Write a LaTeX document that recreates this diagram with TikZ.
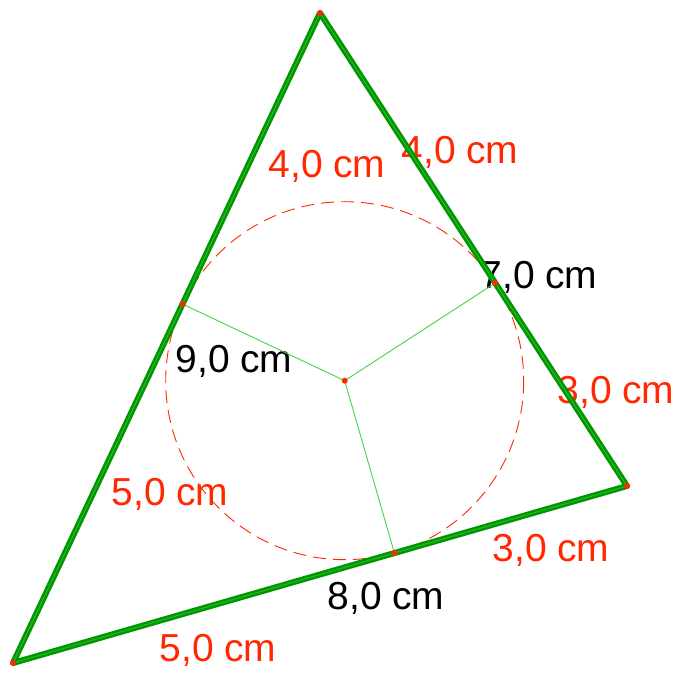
\documentclass[tikz,border=0pt]{standalone}
\usepackage{fontspec}
\setmainfont{Liberation Sans}
\usepackage{xcolor}
\usepackage{tikz}
\usetikzlibrary{calc}

\definecolor{doGG}{RGB}{255,40,0}
\definecolor{xanhGG}{RGB}{0,150,0}
\definecolor{xanhnhat}{RGB}{70,210,70}

\begin{document}
\begin{tikzpicture}[x=0.5pt, y=-0.5pt,
    canh/.style={line width=3pt, xanhGG, line cap=round, line join=round},
    vien/.style={line width=0.6pt, xanhnhat!50!xanhGG},
    bankinh/.style={line width=0.45pt, xanhnhat},
    duongtron/.style={doGG, line width=0.45pt, dash pattern=on 6.5pt off 3.5pt},
    diem/.style={circle, fill=doGG, inner sep=0pt, minimum size=3pt},
    nhando/.style={anchor=base, text=doGG, font=\fontsize{19.5}{23}\selectfont},
    nhanden/.style={anchor=base, text=black, font=\fontsize{19.5}{23}\selectfont}]
    % Khung hình
    \useasboundingbox (0,0) rectangle (681,673);
    
    % Các đỉnh tam giác và tâm đường tròn nội tiếp
    \coordinate (A) at (320,13);
    \coordinate (B) at (627,486);
    \coordinate (C) at (13,663);
    \coordinate (I) at (344.7,380.7);
    
    % Các tiếp điểm = chân đường vuông góc hạ từ I
    \coordinate (M) at ($(A)!(I)!(C)$);
    \coordinate (N) at ($(A)!(I)!(B)$);
    \coordinate (P) at ($(B)!(I)!(C)$);
    
    % Độ dài các đoạn tiếp tuyến và các cạnh
    \node[nhando] (ta1) at (327,178) {4,0 cm};
    \node[nhando] (ta2) at (460,164) {4,0 cm};
    \node[nhanden] (cab) at (539,289) {7,0 cm};
    \node[nhando] (tb1) at (616,404) {3,0 cm};
    \node[nhanden] (cac) at (234,373) {9,0 cm};
    \node[nhando] (tc1) at (170,506) {5,0 cm};
    \node[nhando] (tb2) at (551,562) {3,0 cm};
    \node[nhanden] (cbc) at (386,610) {8,0 cm};
    \node[nhando] (tc2) at (218,662) {5,0 cm};
    
    % Đường tròn nội tiếp (nét đứt)
    \draw[duongtron] (I) circle (179);
    
    % Bán kính tới các tiếp điểm
    \draw[bankinh] (I) -- (M);
    \draw[bankinh] (I) -- (N);
    \draw[bankinh] (I) -- (P);
    
    % Các cạnh tam giác
    \draw[canh] (A) -- (B) -- (C) -- cycle;
    \draw[vien] (A) -- (B) -- (C) -- cycle;
    
    % Các điểm
    \foreach \p in {A, B, C, I, M, N, P}
        \node[diem] at (\p) {};
\end{tikzpicture}
\end{document}
